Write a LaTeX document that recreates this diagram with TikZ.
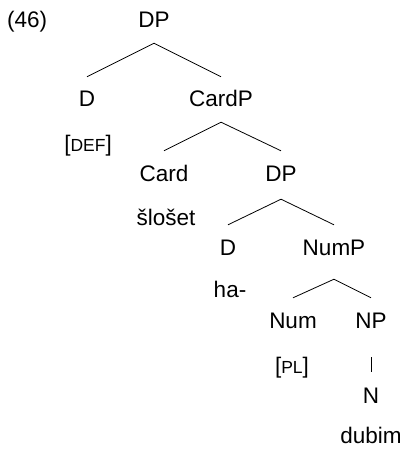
\documentclass[tikz,border=0pt]{standalone}
\usepackage{fontspec}
\setmainfont{Liberation Sans}
\usetikzlibrary{calc}
\newcommand{\fsc}[1]{{\fontsize{17.5}{20}\selectfont #1}}
\begin{document}
\begin{tikzpicture}[x=1pt,y=-1pt,
  every node/.style={inner sep=0pt,anchor=base,font=\fontsize{22.5}{27}\selectfont},
  cat/.style={text height=16pt,text depth=0pt}]
\useasboundingbox (0,0) rectangle (405,449);

\node[anchor=base west] (exno) at (7,28) {(46)};
\node[cat] (dp) at (154,28) {DP};
\node[cat] (d) at (87,107) {D};
\node[cat] (cardp) at (221,107) {CardP};
\node (def) at (88,152) {[\fsc{DEF}]};
\node[cat] (card) at (164,181) {Card};
\node[cat] (dpb) at (281,181) {DP};
\node (sloshet) at (166,225) {šlošet};
\node[cat] (db) at (228,255) {D};
\node[cat] (nump) at (334,255) {NumP};
\node (ha) at (230,297) {ha-};
\node[cat] (num) at (293,328) {Num};
\node[cat] (np) at (371,328) {NP};
\node (pl) at (292,373) {[\fsc{PL}]};
\node[cat] (n) at (371,403) {N};
\node (dubim) at (371,443) {dubim};

\begin{scope}[every path/.style={line width=0.8pt}]
\foreach \p/\c/\a/\b in {dp/d/15/14,dp/cardp/15/14,cardp/card/15/14,cardp/dpb/15/14,
  dpb/db/18/14,dpb/nump/18/14,nump/num/24/14,nump/np/24/14,np/n/29/15}
  \draw ($(\p.south)+(0,\a)$) -- ($(\c.north)+(0,-\b)$);
\end{scope}
\end{tikzpicture}
\end{document}
